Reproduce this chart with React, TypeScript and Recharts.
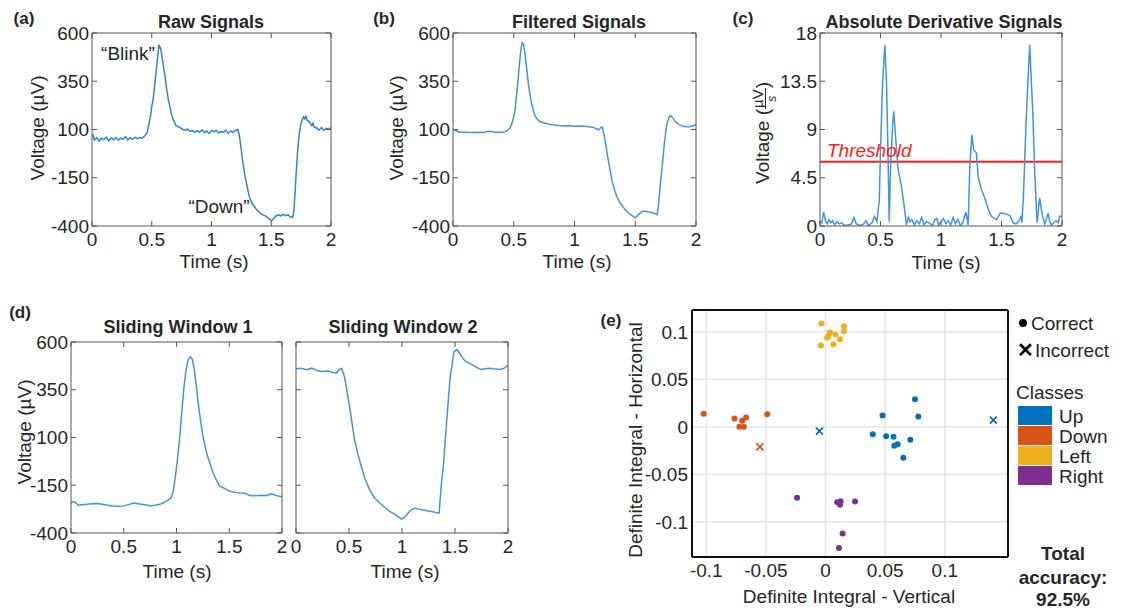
import React from 'react'
import {
  LineChart,
  Line,
  XAxis,
  YAxis,
  ReferenceLine,
  ScatterChart,
  Scatter,
  CartesianGrid,
} from 'recharts'

const FONT = '"Liberation Sans", Arial, Helvetica, sans-serif'
const INK = '#262626'
const BOX = '#555555'
const TRACE_RAW = '#2f86cc'
const TRACE = '#4096d8'

const TIME_TICKS = [0, 0.5, 1, 1.5, 2]
const VOLT_TICKS = [-400, -150, 100, 350, 600]
const DERIV_TICKS = [0, 4.5, 9, 13.5, 18]
const THRESHOLD = 6

const INTEGRAL_TICKS = [-0.1, -0.05, 0, 0.05, 0.1]

// [time (s), value]
const rawSignal: [number, number][] = [
  [0, 62], [0.01, 70], [0.02, 45], [0.04, 58], [0.06, 40], [0.08, 55], [0.1, 48], [0.12, 60],
  [0.14, 42], [0.16, 56], [0.18, 47], [0.2, 58], [0.22, 44], [0.24, 55], [0.26, 50], [0.28, 62],
  [0.3, 46], [0.32, 57], [0.34, 49], [0.36, 60], [0.38, 52], [0.4, 58], [0.42, 55], [0.44, 66],
  [0.46, 80], [0.47, 110], [0.48, 140], [0.49, 170], [0.5, 220], [0.51, 250], [0.52, 300],
  [0.53, 360], [0.54, 420], [0.55, 480], [0.56, 540], [0.565, 520], [0.57, 530], [0.58, 500],
  [0.59, 460], [0.6, 420], [0.61, 380], [0.62, 330], [0.63, 290], [0.64, 250], [0.65, 225],
  [0.66, 195], [0.67, 170], [0.68, 150], [0.69, 138], [0.7, 122], [0.72, 115], [0.74, 108],
  [0.76, 100], [0.78, 95], [0.8, 102], [0.82, 90], [0.84, 96], [0.86, 85], [0.88, 94], [0.9, 86],
  [0.92, 98], [0.94, 84], [0.96, 92], [0.98, 80], [1.0, 95], [1.02, 88], [1.04, 96], [1.06, 82],
  [1.08, 90], [1.1, 86], [1.12, 97], [1.14, 80], [1.16, 92], [1.18, 85], [1.2, 95], [1.22, 100],
  [1.23, 78], [1.24, 40], [1.25, -10], [1.26, -60], [1.27, -100], [1.28, -140], [1.29, -170],
  [1.3, -200], [1.31, -230], [1.32, -255], [1.33, -270], [1.34, -285], [1.36, -300], [1.38, -318],
  [1.4, -328], [1.42, -340], [1.44, -345], [1.46, -350], [1.48, -362], [1.5, -372], [1.51, -368],
  [1.52, -360], [1.54, -348], [1.56, -342], [1.58, -348], [1.6, -340], [1.62, -346], [1.64, -342],
  [1.66, -352], [1.68, -355], [1.69, -320], [1.7, -220], [1.71, -110], [1.72, -20], [1.73, 50],
  [1.74, 100], [1.75, 135], [1.76, 150], [1.77, 165], [1.78, 155], [1.79, 168], [1.8, 148],
  [1.82, 140], [1.84, 120], [1.85, 132], [1.86, 112], [1.88, 108], [1.9, 96], [1.92, 110],
  [1.94, 95], [1.96, 106], [1.98, 102], [2.0, 110],
]

const filteredSignal: [number, number][] = [
  [0, 100], [0.02, 95], [0.05, 86], [0.1, 86], [0.15, 84], [0.2, 86], [0.25, 84], [0.28, 90],
  [0.3, 91], [0.35, 86], [0.4, 86], [0.43, 88], [0.45, 96], [0.47, 108], [0.49, 140], [0.51, 200],
  [0.53, 320], [0.55, 460], [0.56, 520], [0.57, 550], [0.58, 540], [0.59, 505], [0.6, 450],
  [0.62, 340], [0.64, 255], [0.66, 200], [0.68, 165], [0.7, 148], [0.72, 140], [0.76, 132],
  [0.8, 126], [0.85, 122], [0.9, 118], [0.95, 120], [1.0, 117], [1.05, 118], [1.1, 115],
  [1.15, 112], [1.18, 104], [1.2, 98], [1.22, 112], [1.23, 110], [1.25, 50], [1.27, -30],
  [1.29, -100], [1.31, -170], [1.33, -215], [1.35, -250], [1.38, -285], [1.41, -310], [1.44, -330],
  [1.47, -345], [1.5, -358], [1.52, -345], [1.55, -328], [1.57, -322], [1.6, -326], [1.63, -330],
  [1.66, -335], [1.68, -342], [1.69, -300], [1.7, -230], [1.72, -100], [1.74, 30], [1.76, 130],
  [1.78, 165], [1.79, 172], [1.81, 160], [1.83, 140], [1.86, 125], [1.9, 115], [1.94, 114],
  [1.97, 118], [2.0, 126],
]

const derivativeSignal: [number, number][] = [
  [0, 0.4], [0.015, 0.3], [0.03, 1.3], [0.045, 0.5], [0.06, 0.2], [0.075, 0.6], [0.09, 0.3],
  [0.105, 0.5], [0.12, 0.1], [0.14, 0.4], [0.16, 0.2], [0.18, 0.3], [0.2, 0.05], [0.23, 0.1],
  [0.26, 0.2], [0.28, 0.8], [0.3, 0.2], [0.33, 0.05], [0.36, 0.2], [0.38, 0.5], [0.4, 0.05],
  [0.43, 0.3], [0.45, 0.9], [0.47, 0.4], [0.49, 2.4], [0.5, 7.1], [0.517, 13.3], [0.536, 16.9],
  [0.55, 13.3], [0.564, 5.5], [0.572, 0.4], [0.583, 5.5], [0.6, 9.3], [0.61, 10.7], [0.627, 8.0],
  [0.646, 5.2], [0.674, 3.7], [0.696, 1.8], [0.715, 0.1], [0.73, 0.8], [0.745, 0.4], [0.76, 0.6],
  [0.78, 0.1], [0.8, 0.5], [0.82, 0.2], [0.84, 0.8], [0.86, 0.1], [0.88, 0.4], [0.9, 0.3],
  [0.93, 0.05], [0.95, 0.6], [0.965, 0.7], [0.98, 0.1], [1.0, 0.4], [1.02, 0.7], [1.04, 0.2],
  [1.06, 0.5], [1.08, 0.1], [1.1, 0.8], [1.12, 0.2], [1.14, 0.6], [1.16, 0.05], [1.18, 0.3],
  [1.205, 1.3], [1.224, 0.1], [1.238, 5.5], [1.255, 8.5], [1.27, 7.1], [1.293, 6.8], [1.307, 4.6],
  [1.334, 3.4], [1.355, 2.8], [1.376, 2.1], [1.395, 1.4], [1.417, 0.9], [1.458, 0.6], [1.49, 1.2],
  [1.513, 1.2], [1.54, 1.1], [1.568, 1.0], [1.596, 0.3], [1.62, 0.2], [1.645, 0.5], [1.664, 0.9],
  [1.668, 0.3], [1.68, 2.4], [1.705, 10.2], [1.733, 16.9], [1.76, 10.2], [1.775, 4.9],
  [1.794, 0.3], [1.815, 2.6], [1.83, 1.5], [1.84, 0.9], [1.857, 0.2], [1.87, 0.6], [1.885, 1.2],
  [1.9, 0.4], [1.912, 0.1], [1.94, 0.4], [1.953, 0.5], [1.97, 0.3], [1.98, 0.9], [2.0, 0.9],
]

const windowOne: [number, number][] = [
  [0, -243], [0.02, -236], [0.04, -240], [0.07, -255], [0.1, -252], [0.15, -250], [0.2, -247],
  [0.25, -245], [0.3, -250], [0.35, -255], [0.4, -258], [0.45, -260], [0.5, -258], [0.55, -250],
  [0.6, -243], [0.65, -248], [0.7, -252], [0.75, -257], [0.8, -255], [0.85, -248], [0.88, -240],
  [0.92, -228], [0.95, -215], [0.97, -180], [0.99, -100], [1.01, -10], [1.03, 100], [1.05, 230],
  [1.07, 360], [1.09, 450], [1.11, 505], [1.13, 522], [1.15, 510], [1.17, 450], [1.19, 360],
  [1.21, 260], [1.23, 180], [1.25, 110], [1.27, 55], [1.29, 10], [1.32, -40], [1.35, -90],
  [1.38, -125], [1.41, -155], [1.44, -162], [1.47, -172], [1.5, -180], [1.55, -186], [1.6, -190],
  [1.65, -192], [1.7, -205], [1.75, -205], [1.8, -202], [1.85, -205], [1.9, -195], [1.95, -205],
  [2.0, -210],
]

const windowTwo: [number, number][] = [
  [0, 460], [0.05, 462], [0.1, 455], [0.15, 463], [0.2, 450], [0.25, 446], [0.3, 448], [0.35, 440],
  [0.38, 437], [0.41, 455], [0.43, 462], [0.458, 417], [0.48, 345], [0.506, 261], [0.53, 170],
  [0.553, 87], [0.585, 10], [0.616, -52], [0.65, -115], [0.695, -174], [0.74, -215], [0.79, -243],
  [0.84, -268], [0.885, -287], [0.94, -305], [0.995, -327], [1.02, -320], [1.05, -300],
  [1.08, -282], [1.12, -270], [1.16, -275], [1.2, -280], [1.25, -285], [1.3, -290], [1.35, -296],
  [1.37, -150], [1.39, -52], [1.41, 100], [1.437, 296], [1.455, 420], [1.47, 470], [1.49, 548],
  [1.517, 560], [1.54, 545], [1.564, 522], [1.6, 498], [1.64, 488], [1.674, 478], [1.72, 462],
  [1.753, 456], [1.8, 461], [1.84, 462], [1.88, 458], [1.927, 456], [1.96, 462], [2.0, 478],
]

// [vertical integral, horizontal integral]
const upCorrect: [number, number][] = [
  [0.0478, 0.0119], [0.075, 0.0291], [0.0778, 0.0109], [0.0396, -0.0077], [0.0508, -0.0098],
  [0.057, -0.0105], [0.0576, -0.02], [0.0604, -0.0182], [0.0711, -0.0137], [0.0652, -0.0326],
]
const upIncorrect: [number, number][] = [[-0.0051, -0.0046], [0.1407, 0.007]]
const downCorrect: [number, number][] = [
  [-0.1022, 0.0137], [-0.0764, 0.0088], [-0.0699, 0.0063], [-0.0666, 0.0098], [-0.0722, 0],
  [-0.0685, 0], [-0.0489, 0.0133],
]
const downIncorrect: [number, number][] = [[-0.0551, -0.0211]]
const leftCorrect: [number, number][] = [
  [-0.0034, 0.1088], [0.0037, 0.0993], [0.0084, 0.0972], [0.0154, 0.106], [0.0154, 0.1007],
  [0.0022, 0.0954], [0.0014, 0.0937], [0.0121, 0.0923], [-0.0039, 0.0856], [0.0065, 0.087],
]
const rightCorrect: [number, number][] = [
  [-0.0239, -0.0747], [0.0098, -0.0793], [0.0126, -0.0782], [0.0121, -0.0821], [0.0247, -0.0786],
  [0.0143, -0.1123], [0.0112, -0.1274],
]

const CLASS_NAMES = ['Up', 'Down', 'Left', 'Right']
const CLASS_COLORS = ['#0072BD', '#D95319', '#EDB120', '#7E2F8E']

const toRows = (pairs: [number, number][]) => pairs.map(([t, v]) => ({ t, v }))
const toPoints = (pairs: [number, number][]) => pairs.map(([x, y]) => ({ x, y }))

const blankTick = () => <g />
const tickStyle = { fontSize: 19, fill: INK, fontFamily: FONT }

interface PanelProps {
  left: number
  top: number
  w: number
  h: number
  data: [number, number][]
  yTicks: number[]
  color: string
  yLabels?: boolean
  children?: React.ReactNode
}

function SignalPanel({ left, top, w, h, data, yTicks, color, yLabels = true, children }: PanelProps) {
  const ml = yLabels ? 50 : 8
  const mr = 8
  const mt = 14
  const mb = 40
  const domain = [yTicks[0], yTicks[yTicks.length - 1]]
  return (
    <div style={{ position: 'absolute', left: left - ml, top: top - mt }}>
      <LineChart
        width={w + ml + mr}
        height={h + mt + mb}
        data={toRows(data)}
        margin={{ top: 0, right: 0, bottom: 0, left: 0 }}
      >
        <XAxis
          xAxisId="b"
          type="number"
          dataKey="t"
          domain={[0, 2]}
          allowDataOverflow
          ticks={TIME_TICKS}
          height={mb}
          tickSize={-5}
          tickMargin={12}
          tick={tickStyle}
          axisLine={{ stroke: BOX }}
          tickLine={{ stroke: BOX }}
          interval={0}
        />
        <XAxis
          xAxisId="t"
          orientation="top"
          type="number"
          dataKey="t"
          domain={[0, 2]}
          allowDataOverflow
          ticks={TIME_TICKS}
          height={mt}
          tickSize={-5}
          tick={blankTick}
          axisLine={{ stroke: BOX }}
          tickLine={{ stroke: BOX }}
          interval={0}
        />
        <YAxis
          yAxisId="l"
          type="number"
          domain={domain}
          allowDataOverflow
          ticks={yTicks}
          width={ml}
          tickSize={-5}
          tickMargin={8}
          tick={yLabels ? tickStyle : blankTick}
          axisLine={{ stroke: BOX }}
          tickLine={{ stroke: BOX }}
          interval={0}
        />
        <YAxis
          yAxisId="r"
          orientation="right"
          type="number"
          domain={domain}
          allowDataOverflow
          ticks={yTicks}
          width={mr}
          tickSize={-5}
          tick={blankTick}
          axisLine={{ stroke: BOX }}
          tickLine={{ stroke: BOX }}
          interval={0}
        />
        {children}
        <Line
          xAxisId="b"
          yAxisId="l"
          type="linear"
          dataKey="v"
          stroke={color}
          strokeWidth={1.5}
          dot={false}
          isAnimationActive={false}
        />
      </LineChart>
    </div>
  )
}

function Txt({
  x,
  y,
  children,
  size = 19,
  bold = false,
  rotate = false,
  align = 'center',
  style = {},
}: {
  x: number
  y: number
  children: React.ReactNode
  size?: number
  bold?: boolean
  rotate?: boolean
  align?: 'center' | 'left'
  style?: React.CSSProperties
}) {
  const tx = align === 'center' ? '-50%' : '0'
  return (
    <div
      style={{
        position: 'absolute',
        left: x,
        top: y,
        transform: `translate(${tx}, -50%)${rotate ? ' rotate(-90deg)' : ''}`,
        fontSize: size,
        fontWeight: bold ? 700 : 400,
        color: INK,
        whiteSpace: 'nowrap',
        lineHeight: 1,
        textAlign: 'center',
        ...style,
      }}
    >
      {children}
    </div>
  )
}

const dotShape = (color: string) => (p: any) => <circle cx={p.cx} cy={p.cy} r={3} fill={color} />
const crossShape = (color: string) => (p: any) => (
  <path
    d={`M${p.cx - 3.5},${p.cy - 3.5}L${p.cx + 3.5},${p.cy + 3.5}M${p.cx - 3.5},${p.cy + 3.5}L${p.cx + 3.5},${p.cy - 3.5}`}
    stroke={color}
    strokeWidth={1.8}
    fill="none"
  />
)

function ScatterPanel() {
  const ml = 52
  const mr = 10
  const mt = 10
  const mb = 30
  const w = 316
  const h = 247
  const series: { data: [number, number][]; color: string; cross: boolean }[] = [
    { data: upCorrect, color: CLASS_COLORS[0], cross: false },
    { data: downCorrect, color: CLASS_COLORS[1], cross: false },
    { data: leftCorrect, color: CLASS_COLORS[2], cross: false },
    { data: rightCorrect, color: CLASS_COLORS[3], cross: false },
    { data: upIncorrect, color: CLASS_COLORS[0], cross: true },
    { data: downIncorrect, color: CLASS_COLORS[1], cross: true },
  ]
  return (
    <div style={{ position: 'absolute', left: 692 - ml, top: 310 - mt }}>
      <ScatterChart width={w + ml + mr} height={h + mt + mb} margin={{ top: 0, right: 0, bottom: 0, left: 0 }}>
        <CartesianGrid xAxisId="b" yAxisId="l" stroke="#e6e6e6" strokeWidth={1.5} />
        <XAxis
          xAxisId="b"
          type="number"
          dataKey="x"
          domain={[-0.112, 0.153]}
          ticks={INTEGRAL_TICKS}
          allowDataOverflow
          height={mb}
          tickSize={0}
          tickMargin={7}
          tick={tickStyle}
          axisLine={{ stroke: '#111', strokeWidth: 2 }}
          tickLine={false}
          interval={0}
        />
        <XAxis
          xAxisId="t"
          orientation="top"
          type="number"
          dataKey="x"
          domain={[-0.112, 0.153]}
          allowDataOverflow
          height={mt}
          tick={blankTick}
          axisLine={{ stroke: '#111', strokeWidth: 2 }}
          tickLine={false}
        />
        <YAxis
          yAxisId="l"
          type="number"
          dataKey="y"
          domain={[-0.137, 0.123]}
          ticks={INTEGRAL_TICKS}
          allowDataOverflow
          width={ml}
          tickSize={0}
          tickMargin={4}
          tick={tickStyle}
          axisLine={{ stroke: '#111', strokeWidth: 2 }}
          tickLine={false}
          interval={0}
        />
        <YAxis
          yAxisId="r"
          orientation="right"
          type="number"
          dataKey="y"
          domain={[-0.137, 0.123]}
          allowDataOverflow
          width={mr}
          tick={blankTick}
          axisLine={{ stroke: '#111', strokeWidth: 2 }}
          tickLine={false}
        />
        {series.map((s, i) => (
          <Scatter
            key={i}
            xAxisId="b"
            yAxisId="l"
            data={toPoints(s.data)}
            fill={s.color}
            shape={s.cross ? crossShape(s.color) : dotShape(s.color)}
            isAnimationActive={false}
          />
        ))}
      </ScatterChart>
    </div>
  )
}

export default function App() {
  const voltLabel = 'Voltage (µV)'
  return (
    <div
      style={{
        position: 'relative',
        width: 1122,
        height: 610,
        background: '#fff',
        fontFamily: FONT,
        overflow: 'hidden',
      }}
    >
      <style>{'body{margin:0}'}</style>

      {/* (a) raw */}
      <SignalPanel left={92} top={33} w={239} h={193} data={rawSignal} yTicks={VOLT_TICKS} color={TRACE_RAW} />
      <Txt x={24} y={18} size={17} bold>(a)</Txt>
      <Txt x={211} y={22} size={18} bold>Raw Signals</Txt>
      <Txt x={37} y={128} rotate>{voltLabel}</Txt>
      <Txt x={214} y={261}>Time (s)</Txt>
      <Txt x={128} y={53}>“Blink”</Txt>
      <Txt x={219} y={206}>“Down”</Txt>

      {/* (b) filtered */}
      <SignalPanel left={453} top={33} w={243} h={193} data={filteredSignal} yTicks={VOLT_TICKS} color={TRACE} />
      <Txt x={384} y={18} size={17} bold>(b)</Txt>
      <Txt x={579} y={22} size={18} bold>Filtered Signals</Txt>
      <Txt x={396} y={128} rotate>{voltLabel}</Txt>
      <Txt x={577} y={261}>Time (s)</Txt>

      {/* (c) absolute derivative */}
      <SignalPanel left={820} top={33} w={242} h={193} data={derivativeSignal} yTicks={DERIV_TICKS} color={TRACE}>
        <ReferenceLine xAxisId="b" yAxisId="l" y={THRESHOLD} stroke="#ff1a1a" strokeWidth={2} />
      </SignalPanel>
      <Txt x={743} y={18} size={17} bold>(c)</Txt>
      <Txt x={944} y={22} size={18} bold>Absolute Derivative Signals</Txt>
      <Txt x={764} y={133} rotate>
        Voltage (
        <span style={{ display: 'inline-block', verticalAlign: 'middle', fontSize: 15, lineHeight: 1 }}>
          <span style={{ display: 'block', borderBottom: `1.5px solid ${INK}`, padding: '0 1px' }}>µV</span>
          <span style={{ display: 'block', fontStyle: 'italic', fontSize: 12 }}>s</span>
        </span>
        )
      </Txt>
      <Txt x={946} y={262}>Time (s)</Txt>
      <Txt x={827} y={150} align="left" style={{ color: '#ff1a1a', fontStyle: 'italic' }}>
        Threshold
      </Txt>

      {/* (d) sliding windows */}
      <SignalPanel left={71} top={342} w={211} h={191} data={windowOne} yTicks={VOLT_TICKS} color={TRACE} />
      <SignalPanel left={296} top={342} w={212} h={191} data={windowTwo} yTicks={VOLT_TICKS} color={TRACE} yLabels={false} />
      <Txt x={20} y={312} size={17} bold>(d)</Txt>
      <Txt x={178} y={327} size={18} bold>Sliding Window 1</Txt>
      <Txt x={403} y={327} size={18} bold>Sliding Window 2</Txt>
      <Txt x={24} y={432} rotate>{voltLabel}</Txt>
      <Txt x={177} y={571}>Time (s)</Txt>
      <Txt x={405} y={571}>Time (s)</Txt>

      {/* (e) classification */}
      <ScatterPanel />
      <Txt x={611} y={320} size={17} bold>(e)</Txt>
      <Txt x={635} y={440} rotate>Definite Integral - Horizontal</Txt>
      <Txt x={849} y={596}>Definite Integral - Vertical</Txt>

      <div style={{ position: 'absolute', left: 1019, top: 319, width: 8, height: 8, borderRadius: 4, background: '#000' }} />
      <Txt x={1031} y={323} align="left">Correct</Txt>
      <Txt x={1017} y={350} align="left" size={20} bold style={{ color: '#000' }}>✕</Txt>
      <Txt x={1035} y={350} align="left">Incorrect</Txt>
      <Txt x={1016} y={392} align="left">Classes</Txt>
      {CLASS_NAMES.map((name, i) => (
        <React.Fragment key={name}>
          <div
            style={{
              position: 'absolute',
              left: 1018,
              top: 406 + i * 20,
              width: 34,
              height: 19,
              background: CLASS_COLORS[i],
            }}
          />
          <Txt x={1059} y={416 + i * 20} align="left">{name}</Txt>
        </React.Fragment>
      ))}
      <Txt x={1063} y={553} bold>Total</Txt>
      <Txt x={1063} y={577} bold>accuracy:</Txt>
      <Txt x={1063} y={599} bold>92.5%</Txt>
    </div>
  )
}
